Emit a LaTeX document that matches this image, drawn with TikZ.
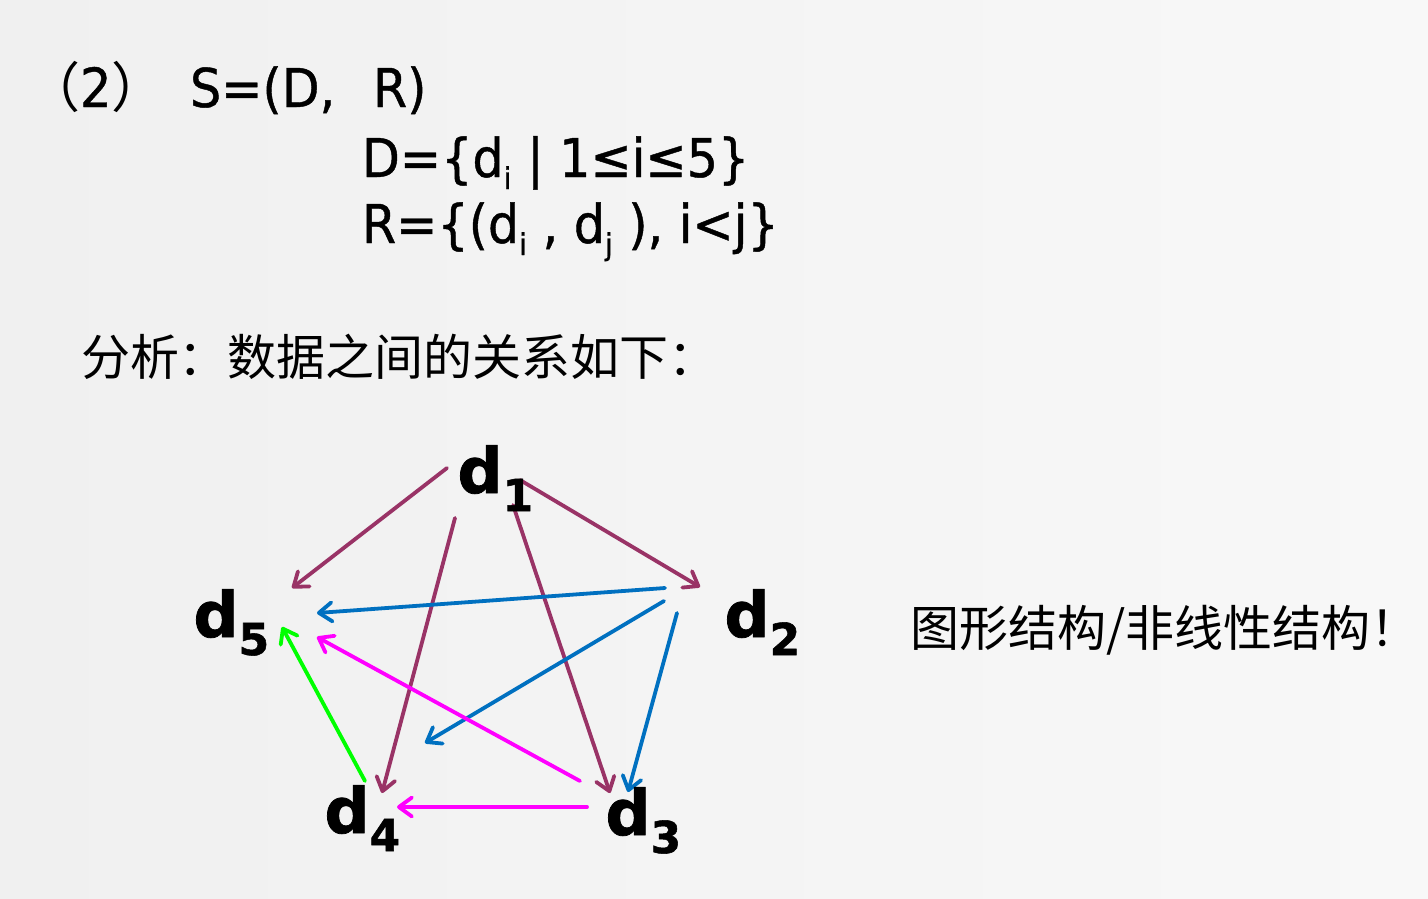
\documentclass[tikz,border=0pt]{standalone}
\usepackage{fontspec}
\usepackage{graphicx}
\usetikzlibrary{arrows.meta}
\newfontfamily\fTxt{DejaVu Sans}[FakeStretch=0.92, FakeBold=0.8]
\newfontfamily\fLab{DejaVu Sans}[BoldFeatures={FakeBold=1.2}]
\newfontfamily\fCjk{Noto Sans CJK SC}
\definecolor{amaroon}{RGB}{153,51,102}
\definecolor{ablue}{RGB}{0,112,192}
\definecolor{amag}{RGB}{255,0,255}
\definecolor{agreen}{RGB}{0,255,0}
\definecolor{bgl}{RGB}{240,240,240}
\definecolor{bgr}{RGB}{248,248,248}
\newcommand\mySub[1]{\raisebox{-12pt}{\fontsize{30}{30}\selectfont #1}}
\newcommand\myLbl[1]{{\fLab\bfseries\fontsize{63}{63}\selectfont d\raisebox{-18pt}{\fontsize{44}{44}\selectfont #1}}}
\begin{document}
\begin{tikzpicture}[x=1pt,y=-1pt,
  every node/.style={inner sep=0pt, outer sep=0pt, anchor=base west},
  txtline/.style={font=\fTxt\fontsize{53.5}{54}\selectfont},
  cjkline/.style={font=\fCjk\fontsize{49}{50}\selectfont},
  edge/.style={line width=3.8pt, line cap=round, -{Straight Barb[length=13pt,width=19pt,round]}}]
\shade[left color=bgl, right color=bgr] (0,0) rectangle (1428,898);
\useasboundingbox (0,0) rectangle (1428,898);
% connector end points
\coordinate (s15) at (447,468); \coordinate (e15) at (292,588);
\coordinate (s14) at (455,518); \coordinate (e14) at (382,793);
\coordinate (s13) at (513,505); \coordinate (e13) at (610,793);
\coordinate (s12) at (520,480); \coordinate (e12) at (700,587);
\coordinate (s25) at (665,588); \coordinate (e25) at (317,613);
\coordinate (s24) at (664,601); \coordinate (e24) at (425,743);
\coordinate (s23) at (677,613); \coordinate (e23) at (628,792);
\coordinate (s35) at (580,781); \coordinate (e35) at (317,637);
\coordinate (s34) at (587,807); \coordinate (e34) at (397,807);
\coordinate (s45) at (365,781); \coordinate (e45) at (282,627);
% connectors
\draw[edge, amaroon] (s15) -- (e15);
\draw[edge, amaroon] (s14) -- (e14);
\draw[edge, amaroon] (s13) -- (e13);
\draw[edge, amaroon] (s12) -- (e12);
\draw[edge, ablue] (s25) -- (e25);
\draw[edge, ablue] (s24) -- (e24);
\draw[edge, ablue] (s23) -- (e23);
\draw[edge, amag] (s35) -- (e35);
\draw[edge, amag] (s34) -- (e34);
\draw[edge, agreen] (s45) -- (e45);
% texts
\node (num) at (26,107) {\fCjk\fontsize{54}{54}\selectfont （{\fTxt 2}）};
\node[txtline] (sdef) at (190,107) {S=(D,};
\node[txtline] (sdefr) at (373,107) {R)};
\node[txtline] (dset) at (362,177) {D=\{d\mySub{i} | 1≤i≤5\}};
\node[txtline] (rset) at (362,243) {R=\{(d\mySub{i} , d\mySub{j} ), i<j\}};
\node[cjkline] (ana) at (81,375) {分析：数据之间的关系如下：};
\node[cjkline] (note) at (910,646) {图形结构/非线性结构！};
% vertices
\node (d1) at (457.5,493) {\myLbl{1}};
\node (d2) at (724.5,637) {\myLbl{2}};
\node (d3) at (605.5,835) {\myLbl{3}};
\node (d4) at (324.5,833) {\myLbl{4}};
\node (d5) at (193.5,637) {\myLbl{5}};
\end{tikzpicture}
\end{document}
